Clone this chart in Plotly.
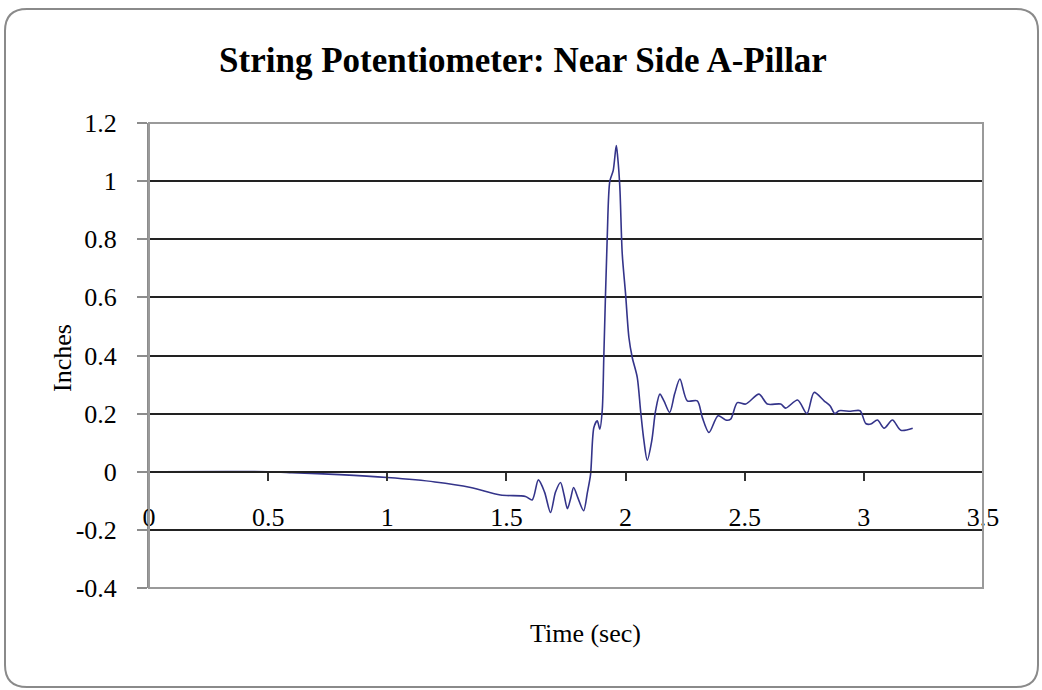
import plotly.graph_objects as go

# String potentiometer displacement trace (time in seconds, displacement in inches)
time_sec = [
    0.0, 0.5, 0.6, 0.8, 1.0, 1.2, 1.35, 1.475, 1.58, 1.608,
    1.634, 1.66, 1.685, 1.706, 1.727, 1.742, 1.756, 1.77, 1.782, 1.80,
    1.824, 1.84, 1.853, 1.867, 1.881, 1.892, 1.902, 1.909, 1.923, 1.934,
    1.948, 1.961, 1.967, 1.976, 1.986, 2.0, 2.014, 2.028, 2.049, 2.063,
    2.077, 2.091, 2.110, 2.126, 2.144, 2.161, 2.185, 2.206, 2.228, 2.259,
    2.301, 2.322, 2.350, 2.388, 2.420, 2.441, 2.469, 2.504, 2.560, 2.595,
    2.651, 2.672, 2.722, 2.761, 2.791, 2.833, 2.858, 2.878, 2.896, 2.945,
    2.984, 3.008, 3.029, 3.057, 3.085, 3.120, 3.155, 3.205,
]
inches = [
    0.0, 0.0, -0.003, -0.01, -0.02, -0.035, -0.054, -0.08, -0.085, -0.097,
    -0.028, -0.07, -0.14, -0.07, -0.037, -0.08, -0.127, -0.09, -0.054, -0.09,
    -0.134, -0.07, -0.01, 0.152, 0.175, 0.147, 0.21, 0.405, 0.806, 1.0,
    1.036, 1.122, 1.082, 0.978, 0.75, 0.612, 0.462, 0.393, 0.325, 0.21,
    0.107, 0.04, 0.107, 0.21, 0.267, 0.244, 0.204, 0.268, 0.319, 0.244,
    0.244, 0.187, 0.135, 0.193, 0.178, 0.181, 0.238, 0.233, 0.267, 0.233,
    0.233, 0.219, 0.247, 0.2, 0.273, 0.244, 0.227, 0.2, 0.21, 0.208,
    0.21, 0.166, 0.164, 0.178, 0.15, 0.178, 0.143, 0.15,
]

x_ticks = [0, 0.5, 1, 1.5, 2, 2.5, 3, 3.5]
x_tick_text = ["0", "0.5", "1", "1.5", "2", "2.5", "3", "3.5"]
y_ticks = [-0.4, -0.2, 0, 0.2, 0.4, 0.6, 0.8, 1.0, 1.2]
y_tick_text = ["-0.4", "-0.2", "0", "0.2", "0.4", "0.6", "0.8", "1", "1.2"]

W, H = 1042, 690
L, R, T, B = 149, 59, 123, 102
PW, PH = W - L - R, H - T - B
SERIF = "Liberation Serif, Times New Roman, serif"


def px(x):
    return (x - L) / PW


def py(y):
    return (H - B - y) / PH


def rounded_box(x0, y0, x1, y1, r):
    return (
        f"M {px(x0 + r)} {py(y0)} L {px(x1 - r)} {py(y0)} "
        f"Q {px(x1)} {py(y0)} {px(x1)} {py(y0 + r)} "
        f"L {px(x1)} {py(y1 - r)} Q {px(x1)} {py(y1)} {px(x1 - r)} {py(y1)} "
        f"L {px(x0 + r)} {py(y1)} Q {px(x0)} {py(y1)} {px(x0)} {py(y1 - r)} "
        f"L {px(x0)} {py(y0 + r)} Q {px(x0)} {py(y0)} {px(x0 + r)} {py(y0)} Z"
    )


fig = go.Figure()
fig.add_trace(go.Scatter(
    x=time_sec, y=inches, mode="lines",
    line=dict(color="#34348a", width=1.6, shape="spline", smoothing=0.8),
    showlegend=False, hoverinfo="skip",
))

fig.update_layout(
    width=W, height=H,
    margin=dict(l=L, r=R, t=T, b=B),
    paper_bgcolor="white", plot_bgcolor="white",
    font=dict(family=SERIF, color="black", size=26),
    title=dict(
        text="String Potentiometer: Near Side A-Pillar",
        x=523 / W, xanchor="center", y=1 - 60 / H, yanchor="middle",
        font=dict(family=SERIF, size=35, color="black", weight="bold"),
    ),
    xaxis=dict(
        range=[0, 3.5], tickvals=x_ticks, ticktext=x_tick_text,
        anchor="free", position=0.25,
        showgrid=False, zeroline=False,
        showline=True, linecolor="#222222", linewidth=2,
        ticks="outside", ticklen=8, tickwidth=2, tickcolor="#333333",
        ticklabelstandoff=14,
        tickfont=dict(family=SERIF, size=26, color="black"),
    ),
    yaxis=dict(
        range=[-0.4, 1.2], tickvals=y_ticks, ticktext=y_tick_text,
        showgrid=True, gridcolor="#222222", gridwidth=2, zeroline=False,
        showline=True, linecolor="#8c8c8c", linewidth=2,
        ticks="outside", ticklen=10, tickwidth=2, tickcolor="#8c8c8c",
        ticklabelstandoff=15,
        tickfont=dict(family=SERIF, size=26, color="black"),
    ),
    shapes=[
        dict(type="rect", xref="paper", yref="paper", x0=0, y0=0, x1=1, y1=1,
             line=dict(color="#9a9a9a", width=2), layer="above"),
        dict(type="path", xref="paper", yref="paper",
             path=rounded_box(5, 9, 1038, 687, 22),
             line=dict(color="#8a8a8a", width=2), layer="below"),
    ],
    annotations=[
        dict(text="Inches", textangle=-90, x=px(62), y=py(358),
             xref="paper", yref="paper", showarrow=False,
             xanchor="center", yanchor="middle",
             font=dict(family=SERIF, size=26, color="black")),
        dict(text="Time (sec)", x=px(585), y=py(633),
             xref="paper", yref="paper", showarrow=False,
             xanchor="center", yanchor="middle",
             font=dict(family=SERIF, size=26, color="black")),
    ],
)

fig.write_html("out.html")
